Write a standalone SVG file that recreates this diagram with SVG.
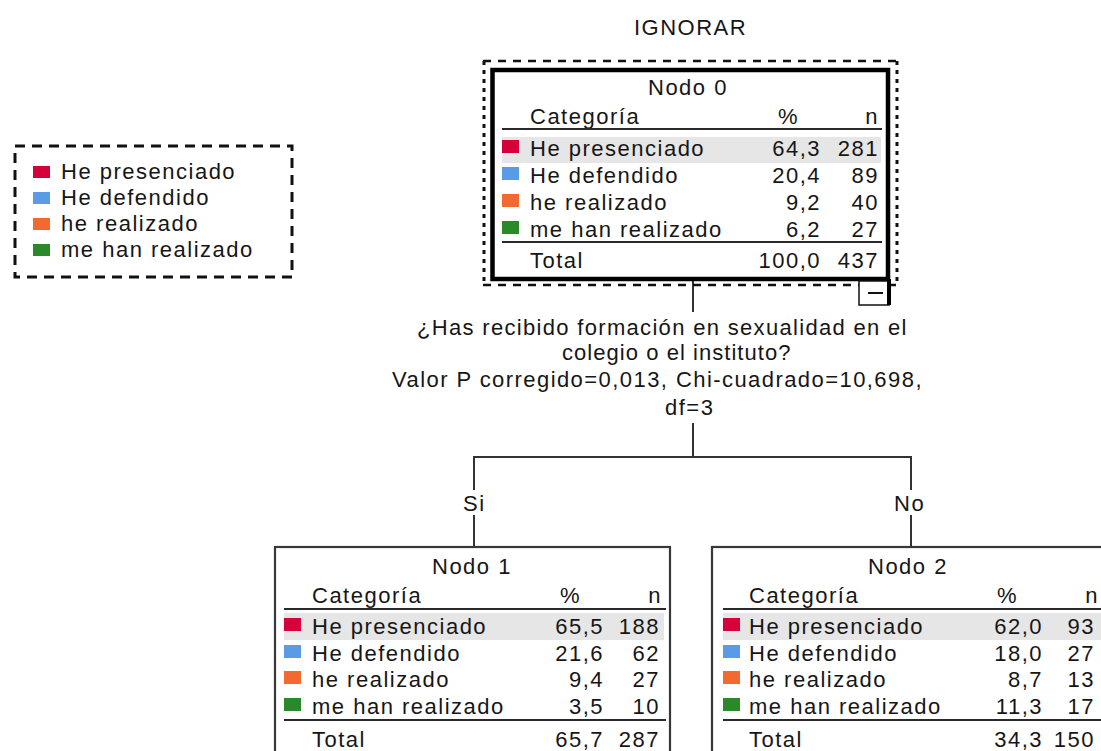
<svg xmlns="http://www.w3.org/2000/svg" width="1101" height="751" viewBox="0 0 1101 751">
<style>
.t{font-family:"Liberation Sans",Arial,sans-serif;font-size:22px;letter-spacing:1.5px;fill:#161616}
.e{text-anchor:end}
.hl{fill:#e6e6e6}
.rule{stroke:#2a2a2a;stroke-width:2}
.box{fill:#fff;stroke:#383838;stroke-width:2.2}
.c1{fill:#d6003a}
.c2{fill:#5a9be6}
.c3{fill:#f36a30}
.c4{fill:#2a8a2a}
.conn{stroke:#333;stroke-width:2;fill:none}
</style>
<rect x="0" y="0" width="1101" height="751" fill="#fff"/>

<text id="title" class="t" x="634" y="35">IGNORAR</text>

<g id="legend">
<rect x="15" y="146" width="277" height="131" fill="none" stroke="#111" stroke-width="3" stroke-dasharray="10 7"/>
<rect class="c1" x="33" y="166" width="17" height="12"/>
<rect class="c2" x="33" y="192" width="17" height="12"/>
<rect class="c3" x="33" y="218" width="17" height="12"/>
<rect class="c4" x="33" y="244" width="17" height="12"/>
<text class="t" x="61" y="179">He presenciado</text>
<text class="t" x="61" y="205">He defendido</text>
<text class="t" x="61" y="231">he realizado</text>
<text class="t" x="61" y="257">me han realizado</text>
</g>

<g id="connectors">
<line class="conn" x1="693" y1="281" x2="693" y2="312"/>
<line class="conn" x1="693" y1="423" x2="693" y2="457"/>
<polyline class="conn" points="474,490 474,457 911,457 911,490"/>
<line class="conn" x1="474" y1="515" x2="474" y2="547"/>
<line class="conn" x1="911" y1="515" x2="911" y2="547"/>
</g>

<g id="split-label">
<text class="t" x="417" y="335" textLength="491" lengthAdjust="spacing">¿Has recibido formación en sexualidad en el</text>
<text class="t" x="562" y="360" textLength="230" lengthAdjust="spacing">colegio o el instituto?</text>
<text class="t" x="392" y="387" textLength="531" lengthAdjust="spacing">Valor P corregido=0,013, Chi-cuadrado=10,698,</text>
<text class="t" x="665" y="415">df=3</text>
<text class="t" x="463" y="511">Si</text>
<text class="t" x="894" y="511">No</text>
</g>

<g id="node0">
<g fill="none" stroke="#111">
<line x1="483" y1="61" x2="898" y2="61" stroke-width="2.5" stroke-dasharray="8 7"/>
<line x1="483" y1="285" x2="898" y2="285" stroke-width="2.5" stroke-dasharray="8 7"/>
<line x1="484" y1="61" x2="484" y2="285" stroke-width="3" stroke-dasharray="4 5"/>
<line x1="897" y1="61" x2="897" y2="285" stroke-width="3" stroke-dasharray="4 5"/>
</g>
<rect x="492.5" y="70" width="395.5" height="209" fill="#fff" stroke="#000" stroke-width="4.5"/>
<rect x="859" y="281" width="30" height="24" fill="#fff" stroke="#111" stroke-width="1.5"/>
<line x1="889" y1="279" x2="889" y2="305" stroke="#000" stroke-width="4"/>
<line x1="868" y1="293" x2="883" y2="293" stroke="#111" stroke-width="2"/>
<text class="t" x="648" y="95">Nodo 0</text>
<text class="t" x="530" y="124">Categoría</text>
<text class="t" x="778" y="124">%</text>
<text class="t e" x="879" y="124">n</text>
<line class="rule" x1="502" y1="129" x2="882" y2="129"/>
<rect class="hl" x="502" y="137" width="379" height="26"/>
<rect class="c1" x="502" y="140" width="17" height="13"/>
<rect class="c2" x="502" y="167" width="17" height="13"/>
<rect class="c3" x="502" y="194" width="17" height="13"/>
<rect class="c4" x="502" y="221" width="17" height="13"/>
<text class="t" x="530" y="156">He presenciado</text>
<text class="t" x="530" y="183">He defendido</text>
<text class="t" x="530" y="210">he realizado</text>
<text class="t" x="530" y="237">me han realizado</text>
<text class="t e" x="821" y="156">64,3</text>
<text class="t e" x="821" y="183">20,4</text>
<text class="t e" x="821" y="210">9,2</text>
<text class="t e" x="821" y="237">6,2</text>
<text class="t e" x="879" y="156">281</text>
<text class="t e" x="879" y="183">89</text>
<text class="t e" x="879" y="210">40</text>
<text class="t e" x="879" y="237">27</text>
<line class="rule" x1="502" y1="242" x2="882" y2="242"/>
<text class="t" x="530" y="268">Total</text>
<text class="t e" x="821" y="268">100,0</text>
<text class="t e" x="879" y="268">437</text>
</g>

<g id="node1">
<rect class="box" x="275" y="547" width="395" height="230"/>
<text class="t" x="432" y="574">Nodo 1</text>
<text class="t" x="312" y="603">Categoría</text>
<text class="t" x="560" y="603">%</text>
<text class="t e" x="662" y="603">n</text>
<line class="rule" x1="284" y1="609" x2="666" y2="609"/>
<rect class="hl" x="284" y="613" width="380" height="27"/>
<rect class="c1" x="284" y="618" width="17" height="13"/>
<rect class="c2" x="284" y="645" width="17" height="13"/>
<rect class="c3" x="284" y="671" width="17" height="13"/>
<rect class="c4" x="284" y="698" width="17" height="13"/>
<text class="t" x="312" y="634">He presenciado</text>
<text class="t" x="312" y="661">He defendido</text>
<text class="t" x="312" y="687">he realizado</text>
<text class="t" x="312" y="714">me han realizado</text>
<text class="t e" x="604" y="634">65,5</text>
<text class="t e" x="604" y="661">21,6</text>
<text class="t e" x="604" y="687">9,4</text>
<text class="t e" x="604" y="714">3,5</text>
<text class="t e" x="660" y="634">188</text>
<text class="t e" x="660" y="661">62</text>
<text class="t e" x="660" y="687">27</text>
<text class="t e" x="660" y="714">10</text>
<line class="rule" x1="284" y1="720" x2="666" y2="720"/>
<text class="t" x="312" y="747">Total</text>
<text class="t e" x="604" y="747">65,7</text>
<text class="t e" x="660" y="747">287</text>
</g>

<g id="node2">
<rect class="box" x="712" y="547" width="395" height="230"/>
<text class="t" x="868" y="574">Nodo 2</text>
<text class="t" x="749" y="603">Categoría</text>
<text class="t" x="997" y="603">%</text>
<text class="t e" x="1099" y="603">n</text>
<line class="rule" x1="723" y1="609" x2="1105" y2="609"/>
<rect class="hl" x="723" y="613" width="380" height="27"/>
<rect class="c1" x="723" y="618" width="17" height="13"/>
<rect class="c2" x="723" y="645" width="17" height="13"/>
<rect class="c3" x="723" y="671" width="17" height="13"/>
<rect class="c4" x="723" y="698" width="17" height="13"/>
<text class="t" x="749" y="634">He presenciado</text>
<text class="t" x="749" y="661">He defendido</text>
<text class="t" x="749" y="687">he realizado</text>
<text class="t" x="749" y="714">me han realizado</text>
<text class="t e" x="1043" y="634">62,0</text>
<text class="t e" x="1043" y="661">18,0</text>
<text class="t e" x="1043" y="687">8,7</text>
<text class="t e" x="1043" y="714">11,3</text>
<text class="t e" x="1095" y="634">93</text>
<text class="t e" x="1095" y="661">27</text>
<text class="t e" x="1095" y="687">13</text>
<text class="t e" x="1095" y="714">17</text>
<line class="rule" x1="723" y1="720" x2="1105" y2="720"/>
<text class="t" x="749" y="747">Total</text>
<text class="t e" x="1043" y="747">34,3</text>
<text class="t e" x="1095" y="747">150</text>
</g>
</svg>
